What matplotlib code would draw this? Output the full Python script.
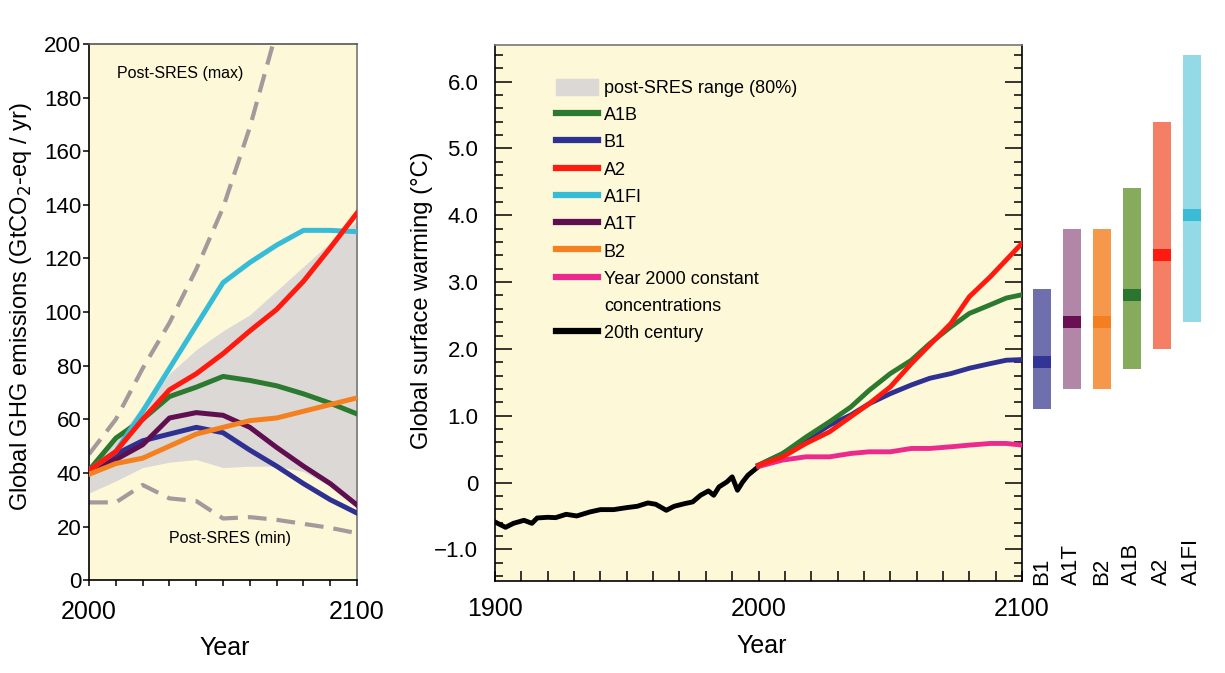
import numpy as np
import matplotlib.pyplot as plt
from matplotlib.ticker import MultipleLocator, FixedLocator
from matplotlib.patches import Patch
from matplotlib.lines import Line2D

plt.rcParams['font.family'] = ['Liberation Sans', 'DejaVu Sans']

# ---- left panel: GHG emissions (GtCO2-eq / yr) ----
em_years = [2000, 2010, 2020, 2030, 2040, 2050, 2060, 2070, 2080, 2090, 2100]
range_lo = [32.5, 37, 42, 44, 45, 42, 42.5, 42.5, 40.5, 35, 28]
range_hi = [42, 52, 65, 77, 86, 93, 99, 108, 117, 126, 134]
em_a1b = [41, 53, 60, 68.5, 72, 76, 74.5, 72.5, 69.5, 66, 62]
em_b1 = [41, 47, 52, 54.5, 57, 55, 48.5, 42.5, 36, 30, 25]
em_a2 = [41, 48, 60, 71, 77, 84.5, 93, 101, 111.5, 124, 137]
em_a1fi = [41, 48, 63, 79, 95, 111, 118.5, 125, 130.5, 130.5, 130]
em_a1t = [41, 45, 50.5, 60.5, 62.5, 61.5, 57, 49.5, 42.5, 36, 28]
em_b2 = [39.5, 43.5, 45.5, 50, 54.5, 57, 59.5, 60.5, 63, 65.5, 68]
max_years = [2000, 2010, 2020, 2030, 2040, 2050, 2060, 2070]
em_max = [47, 60, 79, 96, 116, 139, 169, 205]
min_years = [2000, 2010, 2020, 2030, 2040, 2050, 2060, 2070, 2080, 2090, 2100]
em_min = [29, 29, 35.5, 30.5, 29.5, 23, 23.5, 22.5, 21, 19.5, 17.5]

# ---- middle panel: global surface warming (degC) ----
hist_years = [1900, 1904, 1907, 1911, 1914, 1916, 1920, 1923, 1927, 1931, 1936, 1940,
              1945, 1950, 1954, 1958, 1961, 1965, 1968, 1972, 1975, 1978, 1981, 1983,
              1985, 1988, 1990, 1992, 1994, 1996, 2000]
hist_temp = [-0.59, -0.67, -0.61, -0.565, -0.61, -0.53, -0.52, -0.525, -0.475, -0.50,
             -0.44, -0.405, -0.405, -0.375, -0.355, -0.305, -0.325, -0.415, -0.355,
             -0.315, -0.29, -0.19, -0.125, -0.19, -0.065, 0.01, 0.085, -0.115, 0.01,
             0.11, 0.24]
proj_years = [2000, 2009, 2018, 2027, 2035, 2042, 2050, 2058, 2065, 2073, 2080, 2088,
              2094, 2100]
t_a2 = [0.26, 0.38, 0.585, 0.76, 0.985, 1.18, 1.43, 1.78, 2.06, 2.38, 2.78, 3.08, 3.33, 3.58]
t_a1b = [0.26, 0.43, 0.68, 0.91, 1.13, 1.38, 1.63, 1.83, 2.08, 2.33, 2.53, 2.66, 2.76, 2.81]
t_b1 = [0.26, 0.43, 0.635, 0.86, 1.01, 1.18, 1.33, 1.46, 1.56, 1.63, 1.71, 1.78, 1.83, 1.84]
t_const = [0.24, 0.335, 0.385, 0.385, 0.435, 0.46, 0.46, 0.51, 0.51, 0.535, 0.56, 0.585,
           0.585, 0.56]

# ---- right bars: likely range and best estimate ----
bar_names = ['B1', 'A1T', 'B2', 'A1B', 'A2', 'A1FI']
bar_low = [1.1, 1.4, 1.4, 1.7, 2.0, 2.4]
bar_high = [2.9, 3.8, 3.8, 4.4, 5.4, 6.4]
bar_best = [1.8, 2.4, 2.4, 2.8, 3.4, 4.0]

c_a1b = '#2b7a2f'
c_b1 = '#2e3192'
c_a2 = '#ff1a0f'
c_a1fi = '#36bcd6'
c_a1t = '#5f0f50'
c_b2 = '#f5801f'
c_const = '#ec2a8e'
bg = '#fdf8d7'
grey = '#dcd8d5'
bar_light = ['#6f6fae', '#b286a6', '#f5984b', '#87ab5c', '#f57f64', '#93d9e6']
bar_dark = ['#323496', '#6a0f54', '#f47f20', '#2a7530', '#ff1a0f', '#3bbbd6']

fig = plt.figure(figsize=(12.25, 6.73), dpi=100)

# left panel
ax1 = fig.add_axes([0.0727, 0.138, 0.2188, 0.7965])
ax1.set_facecolor(bg)
ax1.fill_between(em_years, range_lo, range_hi, color=grey, lw=0, zorder=1)
ax1.plot(max_years, em_max, color='#a39a9c', lw=3, dashes=(4.5, 2.4), zorder=2)
ax1.plot(min_years, em_min, color='#a39a9c', lw=3, dashes=(4.5, 2.4), zorder=2)
lw = 3.6
ax1.plot(em_years, em_a1b, color=c_a1b, lw=lw, zorder=3)
ax1.plot(em_years, em_b1, color=c_b1, lw=lw, zorder=3)
ax1.plot(em_years, em_a1t, color=c_a1t, lw=lw, zorder=3)
ax1.plot(em_years, em_a1fi, color=c_a1fi, lw=lw, zorder=3)
ax1.plot(em_years, em_a2, color=c_a2, lw=lw, zorder=4)
ax1.plot(em_years, em_b2, color=c_b2, lw=lw, zorder=4)
ax1.text(2010.4, 189, 'Post-SRES (max)', fontsize=11.5, va='center')
ax1.text(2030, 15.5, 'Post-SRES (min)', fontsize=11.5, va='center')
ax1.set_xlim(2000, 2100)
ax1.set_ylim(0, 200)
ax1.xaxis.set_major_locator(FixedLocator([2000, 2100]))
ax1.xaxis.set_minor_locator(MultipleLocator(10))
ax1.yaxis.set_major_locator(MultipleLocator(20))
ax1.tick_params(axis='y', direction='out', length=4.5, width=1.1, labelsize=16, pad=1)
ax1.tick_params(axis='x', which='both', direction='out', length=4, width=1.1,
                labelsize=18, pad=10)
for s in ax1.spines.values():
    s.set_linewidth(1.2)
ax1.spines['top'].set_color('#555555')
ax1.spines['right'].set_color('#777777')
ax1.set_ylabel('Global GHG emissions (GtCO$_2$-eq / yr)', fontsize=17)
ax1.yaxis.set_label_coords(-0.205, 0.51)
ax1.set_xlabel('Year', fontsize=18)
ax1.xaxis.set_label_coords(0.507, -0.105)

# middle panel
ax2 = fig.add_axes([0.4041, 0.137, 0.4302, 0.7965])
ax2.set_facecolor(bg)
ax2.plot(hist_years, hist_temp, color='black', lw=3.5, zorder=3)
ax2.plot(proj_years, t_const, color=c_const, lw=3.5, zorder=3)
ax2.plot(proj_years, t_b1, color=c_b1, lw=3.5, zorder=3)
ax2.plot(proj_years, t_a1b, color=c_a1b, lw=3.5, zorder=3)
ax2.plot(proj_years, t_a2, color=c_a2, lw=3.5, zorder=4)
ax2.set_xlim(1900, 2100)
ax2.set_ylim(-1.47, 6.55)
ax2.xaxis.set_major_locator(FixedLocator([1900, 2000, 2100]))
ax2.xaxis.set_minor_locator(MultipleLocator(10))
ax2.yaxis.set_major_locator(MultipleLocator(1))
ax2.yaxis.set_minor_locator(MultipleLocator(0.2))
ax2.yaxis.set_major_formatter(plt.FuncFormatter(
    lambda v, p: '0' if abs(v) < 1e-9 else ('%.1f' % v).replace('-', '\u2212')))
ax2.tick_params(axis='y', which='major', direction='in', length=12, width=1.1,
                left=True, right=True, labelsize=16, pad=12)
ax2.tick_params(axis='y', which='minor', direction='in', length=6, width=1.1,
                left=True, right=True)
ax2.tick_params(axis='x', which='both', direction='in', length=7, width=1.1,
                labelsize=18, pad=12)
for s in ax2.spines.values():
    s.set_linewidth(1.2)
ax2.spines['top'].set_color('#777777')
ax2.set_ylabel('Global surface warming (\u00b0C)', fontsize=17)
ax2.yaxis.set_label_coords(-0.117, 0.524)
ax2.set_xlabel('Year', fontsize=18)
ax2.xaxis.set_label_coords(0.507, -0.1)

handles = [Patch(color=grey),
           Line2D([], [], color=c_a1b, lw=4.5),
           Line2D([], [], color=c_b1, lw=4.5),
           Line2D([], [], color=c_a2, lw=4.5),
           Line2D([], [], color=c_a1fi, lw=4.5),
           Line2D([], [], color=c_a1t, lw=4.5),
           Line2D([], [], color=c_b2, lw=4.5),
           Line2D([], [], color=c_const, lw=4.5),
           Line2D([], [], color='none', lw=0),
           Line2D([], [], color='black', lw=4.5)]
labels = ['post-SRES range (80%)', 'A1B', 'B1', 'A2', 'A1FI', 'A1T', 'B2',
          'Year 2000 constant', 'concentrations', '20th century']
ax2.legend(handles, labels, loc='upper left', bbox_to_anchor=(0.1157, 0.937),
           frameon=False, fontsize=13, handlelength=2.3, handleheight=1.0,
           handletextpad=0.35, labelspacing=0.5, borderpad=0, borderaxespad=0)

# right bars
ax3 = fig.add_axes([0.8367, 0.137, 0.155, 0.7965])
ax3.set_xlim(-0.567, 5.767)
ax3.set_ylim(-1.47, 6.55)
ax3.axis('off')
xs = np.arange(len(bar_names))
heights = np.array(bar_high) - np.array(bar_low)
ax3.bar(xs, heights, bottom=bar_low, width=0.58, color=bar_light)
ax3.bar(xs, 0.18, bottom=np.array(bar_best) - 0.09, width=0.58, color=bar_dark)
for i, name in enumerate(bar_names):
    ax3.text(i, -1.54, name, rotation=90, ha='center', va='bottom', fontsize=16,
             clip_on=False)

fig.savefig('out.png', dpi=100)
